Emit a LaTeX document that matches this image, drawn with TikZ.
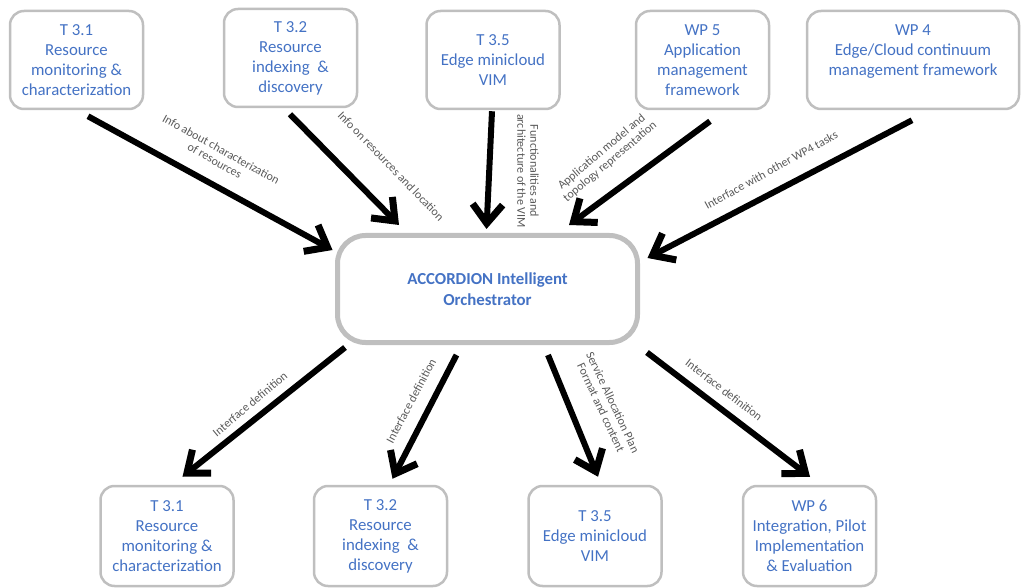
\documentclass[tikz,border=0pt]{standalone}
\usepackage{fontspec}
\setmainfont{Carlito}
\usetikzlibrary{arrows.meta}
\definecolor{boxline}{HTML}{BFBFBF}
\definecolor{boxtext}{HTML}{4472C4}
\definecolor{lbltext}{HTML}{595959}
\tikzset{
  task/.style={draw=boxline, line width=2.5pt, rounded corners=14pt, text=boxtext, align=center,
    font=\fontsize{16.8}{20}\selectfont, inner sep=0pt, minimum width=133pt, minimum height=98pt},
  orchbox/.style={draw=boxline, line width=5pt, rounded corners=28pt, text=boxtext, align=center,
    font=\fontsize{16.8}{21}\selectfont\bfseries, minimum width=300pt, minimum height=107pt},
  feed/.style={line width=6pt, -{Straight Barb[length=19pt,width=30pt,line width=7pt]}},
  lbl/.style={text=lbltext, align=center, font=\fontsize{12}{13}\selectfont, inner sep=0pt},
}
\begin{document}
\begin{tikzpicture}[x=1pt, y=-1pt]
\useasboundingbox (0,0) rectangle (1023,588);
\node[task] (t31a) at (76.5,60) {T 3.1\\Resource\\monitoring \&\\characterization};
\node[task] (t32a) at (290.5,58) {T 3.2\\Resource\\indexing~ \&\\discovery};
\node[task] (t35a) at (493,60) {T 3.5\\Edge minicloud\\VIM};
\node[task] (wp5) at (702.5,60) {WP 5\\Application\\management\\framework};
\node[task, minimum width=212pt] (wp4) at (913,60) {WP 4\\Edge/Cloud continuum\\management framework\\\mbox{}};
\node[orchbox] (orch) at (487.5,289) {ACCORDION Intelligent\\Orchestrator};
\node[task, minimum height=100pt] (t31b) at (167,536) {T 3.1\\Resource\\monitoring \&\\characterization};
\node[task, minimum height=100pt] (t32b) at (380.5,536) {T 3.2\\Resource\\indexing~ \&\\discovery};
\node[task, minimum height=100pt] (t35b) at (595,536) {T 3.5\\Edge minicloud\\VIM};
\node[task, minimum height=100pt] (wp6) at (809.5,536) {WP 6\\Integration, Pilot\\Implementation\\\& Evaluation};
\draw[feed] ([xshift=11.5pt,yshift=-6pt]t31a.south) -- ([xshift=-2.5pt,yshift=39pt]orch.west);
\draw[feed] ([xshift=-0.5pt,yshift=-6pt]t32a.south) -- ([xshift=-88.5pt,yshift=8pt]orch.north);
\draw[feed] ([xshift=-1pt,yshift=-1pt]t35a.south) -- ([xshift=-1pt,yshift=4pt]orch.north);
\draw[feed] ([xshift=7.5pt,yshift=-11pt]wp5.south) -- ([xshift=81.5pt,yshift=8pt]orch.north);
\draw[feed] ([xshift=-1pt,yshift=-10pt]wp4.south) -- ([xshift=7.5pt,yshift=31pt]orch.east);
\draw[feed] ([xshift=-142.5pt,yshift=-2.5pt]orch.south) -- ([xshift=15.5pt,yshift=8pt]t31b.north);
\draw[feed] ([xshift=-31pt,yshift=-10pt]orch.south) -- ([xshift=12pt,yshift=6pt]t32b.north);
\draw[feed] ([xshift=60.5pt,yshift=-10pt]orch.south) -- ([xshift=3pt,yshift=8pt]t35b.north);
\draw[feed] ([xshift=159.5pt,yshift=-7.5pt]orch.south) -- ([xshift=0.5pt,yshift=8pt]wp6.north);
\node[lbl, rotate=-29] (l1) at (218,155) {Info about characterization\\of resources};
\node[lbl, rotate=-46] (l2) at (391,166) {Info on resources and location};
\node[lbl, rotate=-90] (l3) at (528,171) {Functionalities and\\architecture of the VIM};
\node[lbl, rotate=40] (l4) at (606,157) {Application model and\\topology representation};
\node[lbl, rotate=29] (l5) at (771,170) {Interface with other WP4 tasks};
\node[lbl, rotate=40] (l6) at (250,404) {Interface definition};
\node[lbl, rotate=62] (l7) at (411,401) {Interface definition};
\node[lbl, rotate=-65] (l8) at (607,405) {Service Allocation Plan\\Format and content};
\node[lbl, rotate=-37.5] (l9) at (724,390) {Interface definition};
\end{tikzpicture}
\end{document}
